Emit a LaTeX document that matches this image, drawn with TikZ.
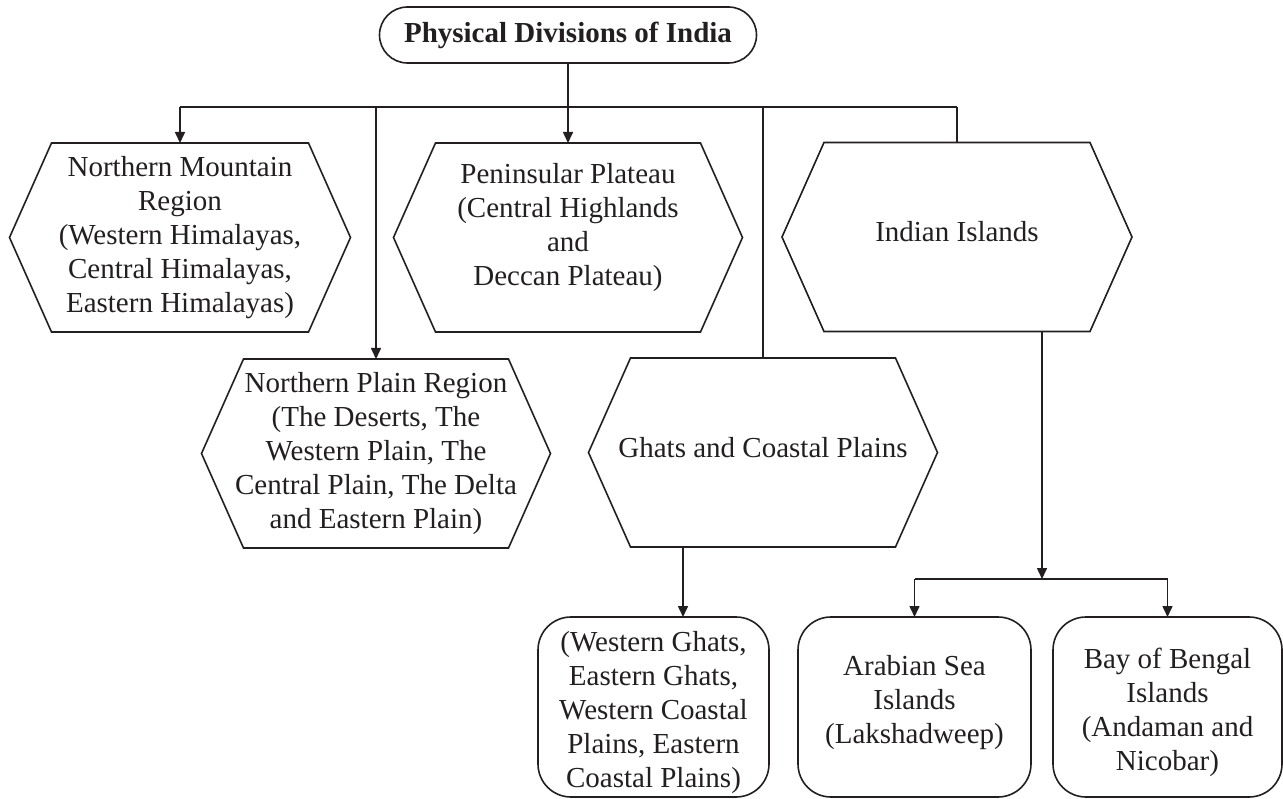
\documentclass[tikz,border=0pt]{standalone}
\usepackage{fontspec}
\setmainfont{Liberation Serif}
\usetikzlibrary{arrows.meta}
\definecolor{ink}{RGB}{35,31,32}
\begin{document}
\begin{tikzpicture}[x=1pt,y=-1pt,
  every node/.style={font=\fontsize{29}{34}\selectfont, text=ink, align=center},
  txt/.style={inner sep=0pt},
  hexbox/.style={minimum width=349pt, minimum height=189pt, outer sep=0pt, inner sep=0pt,
    append after command={\pgfextra{\draw[ink, line width=1.6pt, line join=miter]
      ([xshift=42pt]\tikzlastnode.north west) -- ([xshift=-42pt]\tikzlastnode.north east)
      -- (\tikzlastnode.east) -- ([xshift=-42pt]\tikzlastnode.south east)
      -- ([xshift=42pt]\tikzlastnode.south west) -- (\tikzlastnode.west) -- cycle;}}},
  rbox/.style={draw=ink, line width=1.6pt, rounded corners=33pt, minimum height=180pt, outer sep=0pt, inner sep=0pt},
  rootbox/.style={draw=ink, line width=1.6pt, rounded corners=28pt, minimum width=377pt, minimum height=56pt, outer sep=0pt,
    font=\fontsize{29}{34}\selectfont\bfseries},
  conn/.style={draw=ink, line width=1.6pt},
  arr/.style={conn, -{Triangle[length=11pt,width=10pt]}}
]
\useasboundingbox (0,0) rectangle (1283,799);
\fill[white] (0,0) rectangle (1283,799);

% root
\node[rootbox] (root) at (568,35) {Physical Divisions of India};

% hexagons
\node[hexbox, minimum width=341pt] (nm) at (180,237.5) {Northern Mountain\\Region\\(Western Himalayas,\\Central Himalayas,\\Eastern Himalayas)};
\node[hexbox, label={[txt,yshift=10pt]center:{Peninsular Plateau\\(Central Highlands\\and\\Deccan Plateau)}}] (pp) at (568,237.5) {};
\node[hexbox, minimum width=350pt, label={[txt,yshift=5pt]center:{Indian Islands}}] (ii) at (957,237) {};
\node[hexbox] (np) at (376,453.5) {Northern Plain Region\\(The Deserts, The\\Western Plain, The\\Central Plain, The Delta\\and Eastern Plain)};
\node[hexbox, label={[txt,yshift=5pt]center:{Ghats and Coastal Plains}}] (gh) at (763,452.5) {};

% bottom boxes
\node[rbox, minimum width=231pt, label={[txt,yshift=-5.5pt]center:{(Western Ghats,\\Eastern Ghats,\\Western Coastal\\Plains, Eastern\\Coastal Plains)}}] (b1) at (653.5,707) {};
\node[rbox, minimum width=233pt, label={[txt,yshift=4pt]center:{Arabian Sea\\Islands\\(Lakshadweep)}}] (b2) at (914.5,707) {};
\node[rbox, minimum width=229pt, label={[txt,yshift=-5.5pt]center:{Bay of Bengal\\Islands\\(Andaman and\\Nicobar)}}] (b3) at (1167.5,707) {};

% connectors
\coordinate (j) at (568,107);
\draw[conn] (root.south) -- (j);
\draw[conn] (nm.north |- j) -- (ii.north |- j);
\draw[arr] (nm.north |- j) -- (nm.north);
\draw[arr] (np.north |- j) -- (np.north);
\draw[arr] (pp.north |- j) -- (pp.north);
\draw[conn] (gh.north |- j) -- (gh.north);
\draw[conn] (ii.north |- j) -- (ii.north);

\coordinate (k) at (1042,579);
\draw[arr] (ii.south -| k) -- (k);
\draw[conn] (b2.north |- k) -- (b3.north |- k);
\draw[arr] (b2.north |- k) -- (b2.north);
\draw[arr] (b3.north |- k) -- (b3.north);

\draw[arr] ([xshift=-80pt]gh.south) -- ([xshift=-80pt]gh.south |- b1.north);
\end{tikzpicture}
\end{document}
